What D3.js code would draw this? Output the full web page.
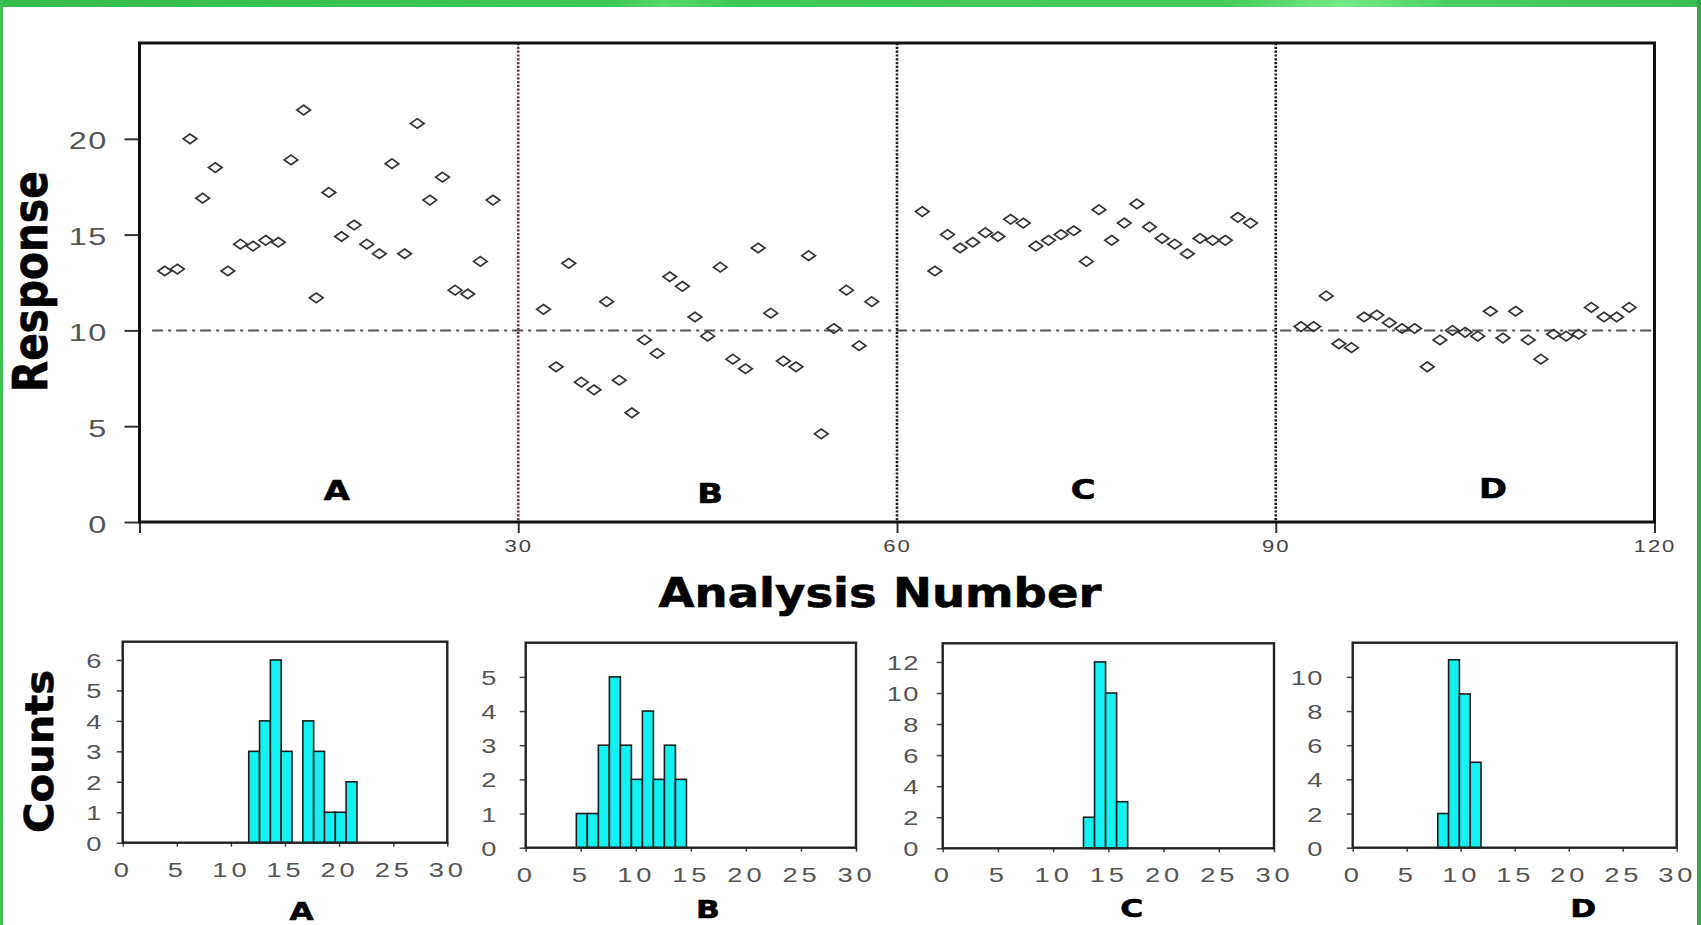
<!DOCTYPE html>
<html>
<head>
<meta charset="utf-8">
<script src="https://cdn.jsdelivr.net/npm/d3@7"></script>
<style>
  html, body { margin: 0; padding: 0; background: #fff; }
  svg { display: block; }
</style>
</head>
<body>
<script>
// ---- data ----
const groups = ["A", "B", "C", "D"];
// first analysis number of each group (27 analyses per group)
const groupStart = [2, 32, 62, 92];

const respA = [13.1, 13.2, 20.0, 16.9, 18.5, 13.1, 14.5, 14.4, 14.7, 14.6, 18.9, 21.5, 11.7, 17.2,
               14.9, 15.5, 14.5, 14.0, 18.7, 14.0, 20.8, 16.8, 18.0, 12.1, 11.9, 13.6, 16.8];
const respB = [11.1, 8.1, 13.5, 7.3, 6.9, 11.5, 7.4, 5.7, 9.5, 8.8, 12.8, 12.3, 10.7, 9.7,
               13.3, 8.5, 8.0, 14.3, 10.9, 8.4, 8.1, 13.9, 4.6, 10.1, 12.1, 9.2, 11.5];
const respC = [16.2, 13.1, 15.0, 14.3, 14.6, 15.1, 14.9, 15.8, 15.6, 14.4, 14.7, 15.0, 15.2, 13.6,
               16.3, 14.7, 15.6, 16.6, 15.4, 14.8, 14.5, 14.0, 14.8, 14.7, 14.7, 15.9, 15.6];
const respD = [10.2, 10.2, 11.8, 9.3, 9.1, 10.7, 10.8, 10.4, 10.1, 10.1, 8.1, 9.5, 10.0, 9.9,
               9.7, 11.0, 9.6, 11.0, 9.5, 8.5, 9.8, 9.7, 9.8, 11.2, 10.7, 10.7, 11.2];
const responses = [respA, respB, respC, respD];
const targetValue = 10;

// histograms: counts in bins of width 1 starting at binStart
const binStart = [11.65, 4.6, 12.75, 7.88];
const countsA = [3, 4, 6, 3, 0, 4, 3, 1, 1, 2];
const countsB = [1, 1, 3, 5, 3, 2, 4, 2, 3, 2];
const countsC = [2, 12, 10, 3];
const countsD = [2, 11, 9, 5];
const counts = [countsA, countsB, countsC, countsD];

// tick labels
const mainYTicks = [0, 5, 10, 15, 20];
const mainXTicks = [0, 30, 60, 90, 120];
const histXTicks = [0, 5, 10, 15, 20, 25, 30];
const histYTicks = [[0, 1, 2, 3, 4, 5, 6], [0, 1, 2, 3, 4, 5], [0, 2, 4, 6, 8, 10, 12], [0, 2, 4, 6, 8, 10]];
const histYMax = [6.6, 6, 13.2, 12];

// ---- layout ----
const W = 1701, H = 925;
const svg = d3.select("body").append("svg").attr("width", W).attr("height", H);

// green slide edges
const grad = svg.append("defs").append("linearGradient").attr("id", "greenTop");
grad.selectAll("stop")
  .data([[0, "#36bd4b"], [0.36, "#3fc753"], [0.39, "#57d86a"], [0.43, "#3fc753"],
         [0.72, "#44ca58"], [0.79, "#74ea86"], [0.85, "#4ccf60"], [1, "#3bbf50"]])
  .join("stop").attr("offset", d => d[0]).attr("stop-color", d => d[1]);
svg.append("rect").attr("width", W).attr("height", 7).attr("fill", "url(#greenTop)");
svg.append("rect").attr("width", 3).attr("height", H).attr("fill", "#3fc253");
svg.append("rect").attr("x", W - 4).attr("width", 4).attr("height", H).attr("fill", "#36a848");

// stretch text horizontally (the source picture is wide-squashed)
function widen(sel, k) {
  sel.each(function() {
    const t = d3.select(this);
    const x0 = +t.attr("x") || 0;
    t.attr("x", x0 / k).attr("transform", `scale(${k},1)`);
  });
}

function boldLabel(txt, cx, cy, size, k, len, rotate) {
  const g = svg.append("g")
    .attr("transform", `translate(${cx},${cy}) scale(${k},1)` + (rotate ? " rotate(-90)" : ""));
  const t = g.append("text")
    .attr("text-anchor", "middle")
    .attr("font-family", "DejaVu Sans, sans-serif")
    .attr("font-weight", "bold")
    .attr("font-size", size)
    .attr("fill", "#000")
    .attr("stroke", "#000")
    .attr("stroke-width", 0.6)
    .text(txt);
  if (len) t.attr("textLength", len).attr("lengthAdjust", "spacingAndGlyphs");
  return t;
}

// ---- main scatter ----
const x = d3.scaleLinear().domain([0, 120]).range([139.5, 1654.5]);
const y = d3.scaleLinear().domain([0, 25]).range([522, 43]);

// vertical dotted separators
svg.append("g").selectAll("line")
  .data([30, 60, 90])
  .join("line")
  .attr("x1", d => x(d)).attr("x2", d => x(d))
  .attr("y1", y(25)).attr("y2", y(0))
  .attr("stroke", (d, i) => i === 0 ? "#6e2f57" : "#1a1a1a")
  .attr("stroke-width", 2.6)
  .attr("stroke-dasharray", "2.2,1.6");

// target line
svg.append("line")
  .attr("x1", x(1)).attr("x2", x(120))
  .attr("y1", y(targetValue)).attr("y2", y(targetValue))
  .attr("stroke", "#555")
  .attr("stroke-width", 2)
  .attr("stroke-dasharray", "11,5,3,5");

// axes
const yAxis = svg.append("g")
  .attr("transform", `translate(${x(0)},0)`)
  .call(d3.axisLeft(y).tickValues(mainYTicks).tickSize(15).tickPadding(17));
yAxis.select(".domain").remove();
yAxis.selectAll(".tick line").attr("stroke", "#333").attr("stroke-width", 2);
yAxis.selectAll("text")
  .attr("font-family", "Liberation Sans, Arial, sans-serif")
  .attr("font-size", 24).attr("fill", "#555")
  .attr("letter-spacing", 1).attr("dy", "0.42em");
widen(yAxis.selectAll("text"), 1.35);

const xAxis = svg.append("g")
  .attr("transform", `translate(0,${y(0)})`)
  .call(d3.axisBottom(x).tickValues(mainXTicks).tickSize(11).tickPadding(7)
    .tickFormat(d => d === 0 ? "" : d));
xAxis.select(".domain").remove();
xAxis.selectAll(".tick line").attr("stroke", "#333").attr("stroke-width", 2);
xAxis.selectAll("text")
  .attr("font-family", "Liberation Sans, Arial, sans-serif")
  .attr("font-size", 17).attr("fill", "#444")
  .attr("letter-spacing", 1.5);
widen(xAxis.selectAll("text"), 1.3);

// frame
svg.append("rect")
  .attr("x", x(0)).attr("y", y(25))
  .attr("width", x(120) - x(0)).attr("height", y(0) - y(25))
  .attr("fill", "none").attr("stroke", "#111").attr("stroke-width", 3);

// points
const pts = responses.flatMap((arr, g) => arr.map((v, i) => ({ n: groupStart[g] + i, v })));
svg.append("g").selectAll("path")
  .data(pts)
  .join("path")
  .attr("transform", d => `translate(${x(d.n)},${y(d.v)})`)
  .attr("d", "M0,-4.8L6.8,0L0,4.8L-6.8,0Z")
  .attr("fill", "none")
  .attr("stroke", "#333")
  .attr("stroke-width", 1.7);

// group letters inside the plot
const letterPos = [[336.7, 500], [710, 503], [1083, 499], [1493, 498]];
groups.forEach((g, i) => boldLabel(g, letterPos[i][0], letterPos[i][1], 27, 1.25));

// axis titles
boldLabel("Analysis Number", 880, 607, 41, 1, 443);
boldLabel("Response", 47, 281.7, 40, 1.2, 221, true);
boldLabel("Counts", 53, 751.5, 36, 1.1, 163, true);

// ---- histograms ----
const panels = [
  { x0: 122.7, x1: 447.3, y0: 641.7, y1: 842.7, gap: 20, lx: 301.7, ly: 920 },
  { x0: 525.7, x1: 856.0, y0: 642.7, y1: 847.7, gap: 28, lx: 708.0, ly: 918 },
  { x0: 942.7, x1: 1274.0, y0: 643.3, y1: 848.3, gap: 23, lx: 1131.7, ly: 917 },
  { x0: 1352.7, x1: 1676.7, y0: 642.7, y1: 847.7, gap: 29, lx: 1583.3, ly: 917 }
];

panels.forEach((p, i) => {
  const hx = d3.scaleLinear().domain([0, 30]).range([p.x0, p.x1]);
  const hy = d3.scaleLinear().domain([0, histYMax[i]]).range([p.y1, p.y0]);
  const g = svg.append("g");

  const bins = counts[i].map((c, k) => ({ lo: binStart[i] + k, hi: binStart[i] + k + 1, c }))
    .filter(d => d.c > 0);

  g.append("g").selectAll("rect")
    .data(bins)
    .join("rect")
    .attr("x", d => hx(d.lo))
    .attr("width", d => hx(d.hi) - hx(d.lo))
    .attr("y", d => hy(d.c))
    .attr("height", d => hy(0) - hy(d.c))
    .attr("fill", "#12f2f2")
    .attr("stroke", "#1c1c1c")
    .attr("stroke-width", 1.6);

  const ya = g.append("g")
    .attr("transform", `translate(${p.x0},0)`)
    .call(d3.axisLeft(hy).tickValues(histYTicks[i]).tickFormat(d3.format("d"))
      .tickSize(6).tickPadding(p.gap - 6));
  ya.select(".domain").remove();
  ya.selectAll(".tick line").attr("stroke", "#444").attr("stroke-width", 1.5);
  ya.selectAll("text")
    .attr("font-family", "Liberation Sans, Arial, sans-serif")
    .attr("font-size", 21).attr("fill", "#555")
    .attr("letter-spacing", 1).attr("dy", "0.36em");
  widen(ya.selectAll("text"), 1.3);

  const xa = g.append("g")
    .attr("transform", `translate(0,${p.y1})`)
    .call(d3.axisBottom(hx).tickValues(histXTicks).tickFormat(d3.format("d"))
      .tickSize(4).tickPadding(15));
  xa.select(".domain").remove();
  xa.selectAll(".tick line").attr("stroke", "#444").attr("stroke-width", 1.5);
  xa.selectAll("text")
    .attr("font-family", "Liberation Sans, Arial, sans-serif")
    .attr("font-size", 21).attr("fill", "#555")
    .attr("letter-spacing", 3);
  widen(xa.selectAll("text"), 1.3);

  g.append("rect")
    .attr("x", p.x0).attr("y", p.y0)
    .attr("width", p.x1 - p.x0).attr("height", p.y1 - p.y0)
    .attr("fill", "none").attr("stroke", "#222").attr("stroke-width", 2.4);

  boldLabel(groups[i], p.lx, p.ly, 25, 1.25);
});
</script>
</body>
</html>
